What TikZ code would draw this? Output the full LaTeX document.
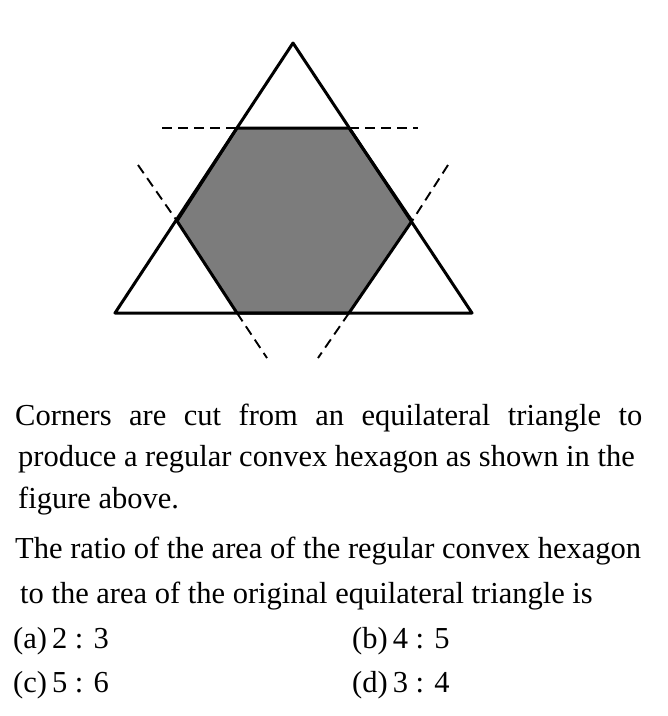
\documentclass[tikz,border=0pt]{standalone}
\usepackage{fontspec}
\setmainfont{Liberation Serif}
\usepackage{tikz}
\usetikzlibrary{
  calc,
  positioning
}
\definecolor{hexgray}{RGB}{124,124,124}

\tikzset{
  edge/.style={line width=3pt, line join=round},
  cutline/.style={line width=1.9pt, dash pattern=on 10pt off 6pt},
  txt/.style={anchor=base west, inner sep=0pt, font=\fontsize{30.5}{36}\selectfont}
}

\begin{document}
\begin{tikzpicture}[x=1pt,y=-1pt]
  \useasboundingbox (0,0) rectangle (668,716);
  % triangle corners
  \coordinate (A) at (293,43);
  \coordinate (B) at (115,313);
  \coordinate (C) at (472,313);
  % hexagon corners
  \coordinate (H1) at (237,128);
  \coordinate (H2) at (349,128);
  \coordinate (H3) at (412,221);
  \coordinate (H4) at (349,313);
  \coordinate (H5) at (237,313);
  \coordinate (H6) at (177,221);
  % free ends of the cutting lines
  \coordinate (T1) at (162,128);
  \coordinate (T2) at (418,128);
  \coordinate (L1) at (138,165);
  \coordinate (L2) at (267,358);
  \coordinate (R1) at (448,165);
  \coordinate (R2) at (318,358);

  \fill[hexgray] (H1) -- (H2) -- (H3) -- (H4) -- (H5) -- (H6) -- cycle;
  \draw[edge] (H1) -- (H2) -- (H3) -- (H4) -- (H5) -- (H6) -- cycle;
  \draw[edge] (A) -- (B) -- (C) -- cycle;
  \draw[cutline] (T1) -- (H1);
  \draw[cutline] (H2) -- (T2);
  \draw[cutline] (L1) -- (H6);
  \draw[cutline] (H5) -- (L2);
  \draw[cutline] (R1) -- (H3);
  \draw[cutline] (H4) -- (R2);

  \node[txt] (q1) at (15,425) {\makebox[627pt][s]{Corners are cut from an equilateral triangle to}};
  \node[txt] (q2) at (18,466) {produce a regular convex hexagon as shown in the};
  \node[txt] (q3) at (18,508) {figure above.};
  \node[txt] (q4) at (15,558) {The ratio of the area of the regular convex hexagon};
  \node[txt] (q5) at (20,603) {to the area of the original equilateral triangle is};
  \node[txt] (oa) at (13,648) {(a)\,2 : 3};
  \node[txt] (ob) at (352,648) {(b)\,4 : 5};
  \node[txt] (oc) at (13,692) {(c)\,5 : 6};
  \node[txt] (od) at (352,692) {(d)\,3 : 4};
\end{tikzpicture}
\end{document}
